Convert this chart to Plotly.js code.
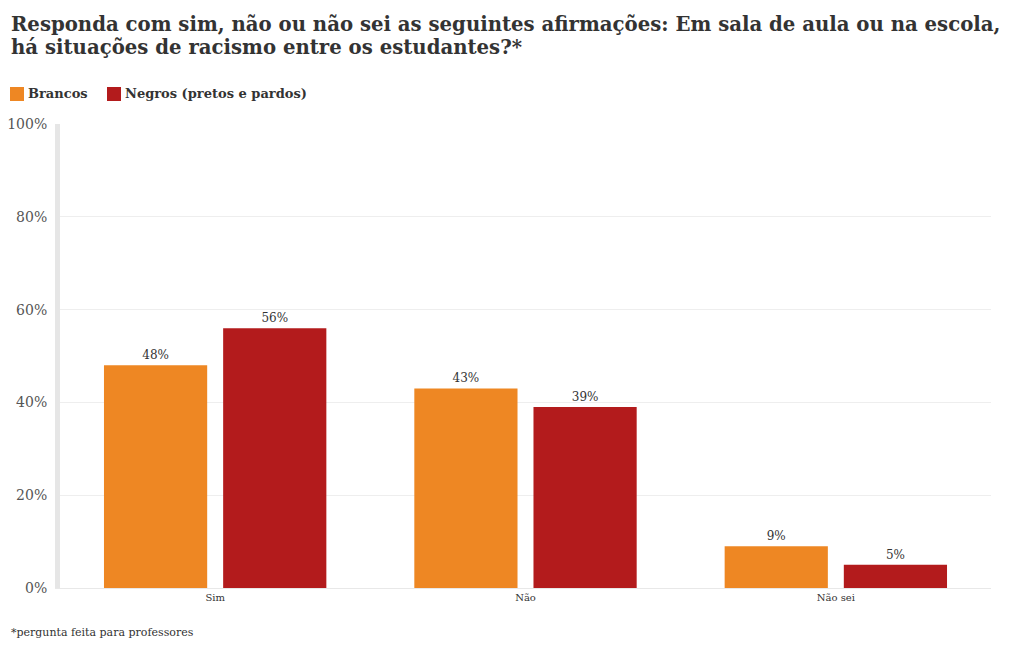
<!DOCTYPE html>
<html>
<head>
<meta charset="utf-8">
<script src="https://cdn.plot.ly/plotly-3.0.1.min.js"></script>
<style>html,body{margin:0;padding:0;background:#fff;}#chart{width:1020px;height:650px;}</style>
</head>
<body>
<div id="chart"></div>
<script>
const categories = ["Sim", "Não", "Não sei"];
const brancos = [48, 43, 9];
const negros = [56, 39, 5];
const seriesNames = ["Brancos", "Negros (pretos e pardos)"];
const seriesColors = ["#ee8723", "#b31b1c"];
const yTickVals = [0, 20, 40, 60, 80, 100];
const yTickText = ["0%", "20%", "40%", "60%", "80%", "100%"];
const titleLines = [
  "Responda com sim, não ou não sei as seguintes afirmações: Em sala de aula ou na escola,",
  "há situações de racismo entre os estudantes?*"
];
const footnote = "*pergunta feita para professores";

const FONT = "DejaVu Serif, Liberation Serif, serif";

// plot geometry helpers (pixel -> paper)
const M = {l: 60, r: 29, t: 124, b: 62};
const W = 1020, H = 650;
const PW = W - M.l - M.r, PH = H - M.t - M.b;
const px = x => (x - M.l) / PW;
const py = y => (H - M.b - y) / PH;

const mk = (name, vals, color) => ({
  type: "bar",
  name: name,
  x: categories,
  y: vals,
  text: vals.map(v => v + "%"),
  textposition: "outside",
  textfont: {family: FONT, size: 12, color: "#333"},
  cliponaxis: false,
  marker: {color: color},
  hoverinfo: "x+y+name"
});

const data = [
  mk(seriesNames[0], brancos, seriesColors[0]),
  mk(seriesNames[1], negros, seriesColors[1])
];

const legendX = [10, 107];
const shapes = legendX.map((x, i) => ({
  type: "rect", xref: "paper", yref: "paper",
  x0: px(x), x1: px(x + 14), y0: py(101), y1: py(87),
  fillcolor: seriesColors[i], line: {width: 0}
}));

const annotations = [
  {text: "<b>" + titleLines[0] + "</b>", x: px(9), y: py(24)},
  {text: "<b>" + titleLines[1] + "</b>", x: px(9), y: py(47)}
].map(a => Object.assign(a, {
  xref: "paper", yref: "paper", xanchor: "left", yanchor: "middle",
  showarrow: false, font: {family: FONT, size: 19.7, color: "#333"}
}));

legendX.forEach((x, i) => annotations.push({
  text: "<b>" + seriesNames[i] + "</b>",
  xref: "paper", yref: "paper", x: px(x + 16), y: py(94),
  xanchor: "left", yanchor: "middle", showarrow: false,
  font: {family: FONT, size: 13, color: "#333"}
}));

annotations.push({
  text: footnote,
  xref: "paper", yref: "paper", x: px(9), y: py(632),
  xanchor: "left", yanchor: "middle", showarrow: false,
  font: {family: FONT, size: 11, color: "#333"}
});

const layout = {
  width: W,
  height: H,
  margin: M,
  paper_bgcolor: "#fff",
  plot_bgcolor: "#fff",
  font: {family: FONT, color: "#333"},
  showlegend: false,
  bargap: 0.232,
  bargroupgap: 0.134,
  xaxis: {
    type: "category",
    tickfont: {family: FONT, size: 10, color: "#333"},
    showgrid: false,
    showline: true,
    linecolor: "#e8e8e8",
    linewidth: 1,
    ticks: "",
    fixedrange: true
  },
  yaxis: {
    range: [0, 100],
    tickvals: yTickVals,
    ticktext: yTickText,
    tickfont: {family: FONT, size: 14, color: "#555"},
    showgrid: true,
    gridcolor: "#eeeeee",
    gridwidth: 1,
    zeroline: false,
    showline: true,
    linecolor: "#e6e6e6",
    linewidth: 5,
    ticks: "",
    ticklabelstandoff: 5,
    fixedrange: true
  },
  shapes: shapes,
  annotations: annotations
};

Plotly.newPlot("chart", data, layout, {displayModeBar: false, responsive: false});
</script>
</body>
</html>
